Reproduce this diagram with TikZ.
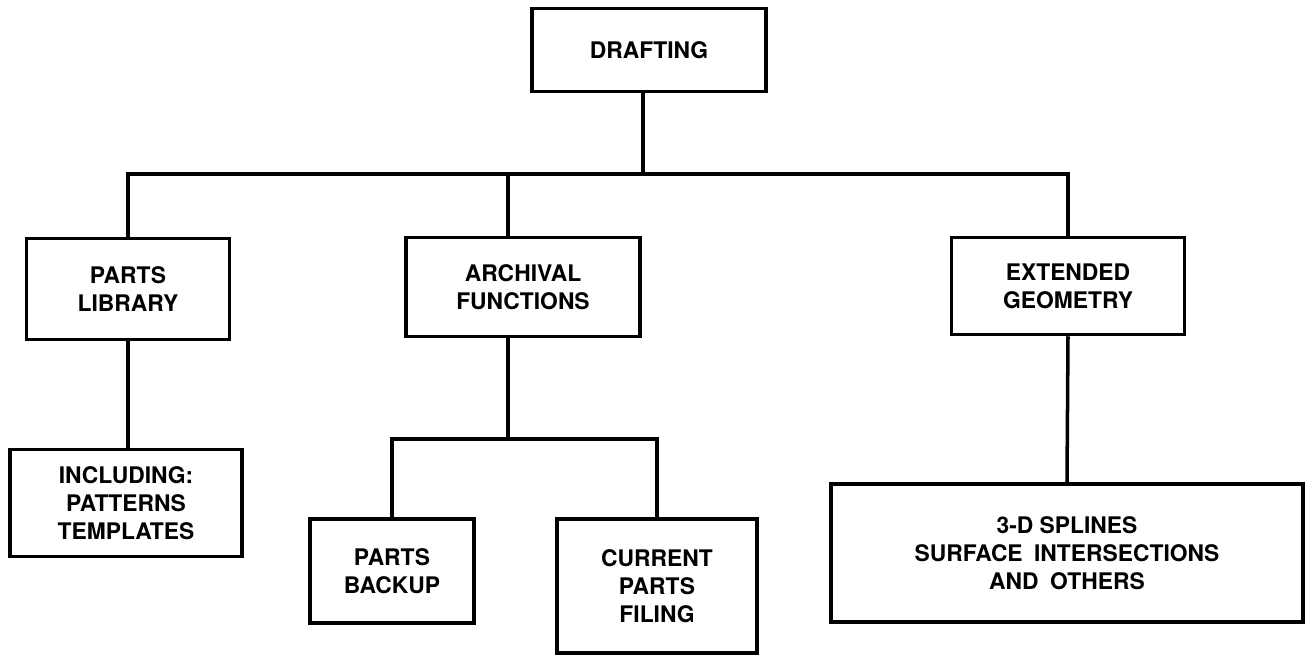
\documentclass[tikz,border=0pt]{standalone}
\usepackage{fontspec}
\setmainfont{TeX Gyre Heros}
\begin{document}
\begin{tikzpicture}[x=0.02cm,y=-0.02cm,line width=2pt,
    blok/.style={draw,align=center,inner sep=2pt,font=\bfseries\fontsize{13}{16}\selectfont}]
    \useasboundingbox (0,0) rectangle (1309,656);
    % boxes
    \node[blok,minimum width=4.68cm,minimum height=1.66cm] (draft) at (649,50) {DRAFTING};
    \node[blok,minimum width=4.06cm,minimum height=2.02cm] (lib) at (128,289) {PARTS\\LIBRARY};
    \node[blok,minimum width=4.68cm,minimum height=1.98cm] (arch) at (523,287) {ARCHIVAL\\FUNCTIONS};
    \node[blok,minimum width=4.66cm,minimum height=1.94cm] (ext) at (1068,286) {EXTENDED\\GEOMETRY};
    \node[blok,minimum width=4.64cm,minimum height=2.14cm] (incl) at (126,503) {INCLUDING:\\PATTERNS\\TEMPLATES};
    \node[blok,minimum width=3.28cm,minimum height=2.08cm] (backup) at (392,571) {PARTS\\BACKUP};
    \node[blok,minimum width=4.0cm,minimum height=2.68cm] (filing) at (657,586) {CURRENT\\PARTS\\FILING};
    \node[blok,minimum width=9.44cm,minimum height=2.76cm] (splines) at (1067,553) {3-D SPLINES\\SURFACE\enspace INTERSECTIONS\\AND\enspace OTHERS};
    % bus lines
    \coordinate (bus) at (643,174);
    \coordinate (subbus) at (524,439);
    \draw (draft.south -| bus) -- (bus);
    \draw (lib.north) |- (bus) -| (ext.north);
    \draw ([xshift=-0.3cm]arch.north) -- ([xshift=-0.3cm]arch.north |- bus);
    \draw ([xshift=-0.3cm]arch.south) -- ([xshift=-0.3cm]arch.south |- subbus);
    \draw (backup.north) |- (subbus) -| (filing.north);
    \draw (lib.south) -- (lib.south |- incl.north);
    \draw (ext.south) -- (splines.north);
\end{tikzpicture}
\end{document}
